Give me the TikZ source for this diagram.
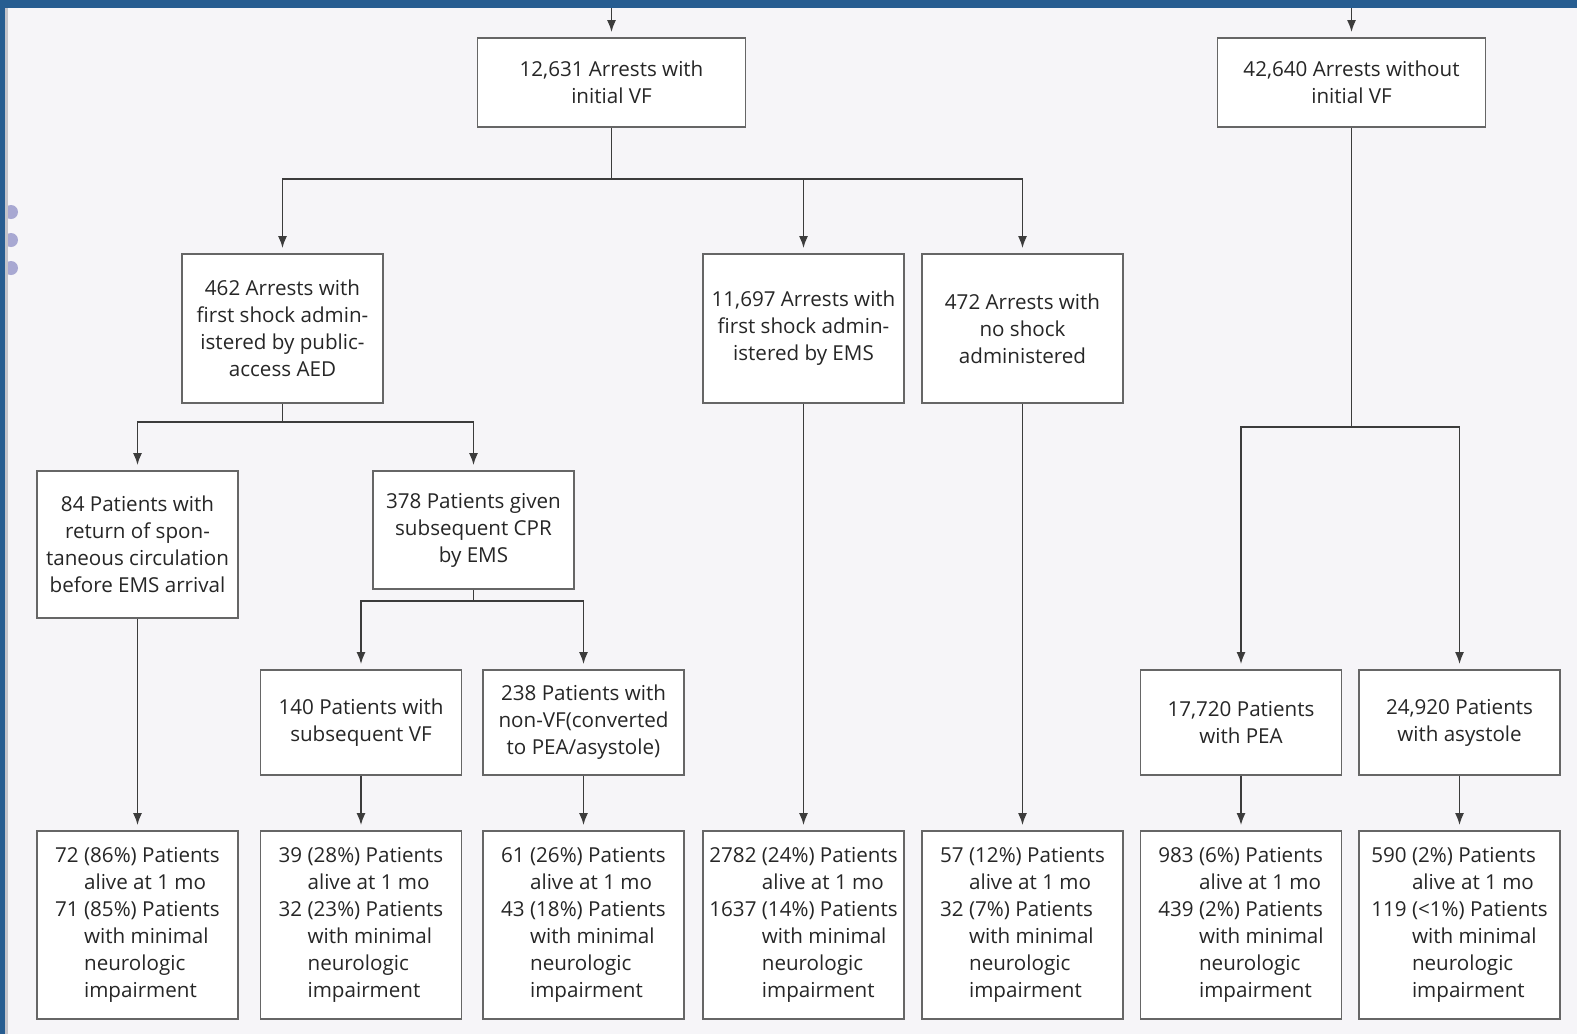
\documentclass[tikz,border=0pt]{standalone}
\usepackage{fontspec}
\setmainfont{Open Sans}
\usetikzlibrary{arrows.meta}

\definecolor{nejmblue}{HTML}{275D91}
\definecolor{pagegray}{HTML}{F6F5F8}
\definecolor{edgegray}{HTML}{C4C4CA}
\definecolor{boxline}{HTML}{666666}
\definecolor{wireline}{HTML}{3C3C3C}
\definecolor{dotlilac}{HTML}{A8A8D2}
\definecolor{inkgray}{HTML}{262626}

\tikzset{
  flowbox/.style={draw=boxline, fill=white, line width=0.9pt, align=center,
    inner sep=0pt, minimum width=100.5pt, text=inkgray,
    font=\fontsize{10.3}{13.5}\selectfont},
  wire/.style={draw=wireline, line width=0.85pt},
  flowarrow/.style={wire, -{Latex[length=6pt,width=4.5pt]}, shorten >=2.5pt}
}

% outcome text: count, percent, count, percent
\newcommand{\outcometab}[4]{%
  \begin{tabular}{@{}l@{\ }l@{}}
    #1 & #2 Patients\\
       & alive at 1 mo\\
    #3 & #4 Patients\\
       & with minimal\\
       & neurologic\\
       & impairment
  \end{tabular}}

\begin{document}
\begin{tikzpicture}[x=0.5pt,y=-0.5pt]
    % page and frame
    \useasboundingbox (0,0) rectangle (1577,1034);
    \fill[pagegray] (0,0) rectangle (1577,1034);
    \foreach \y in {212,240,268}
      \fill[dotlilac] (11,\y) circle[radius=3.5pt];
    \fill[edgegray] (5,8) rectangle (8,1034);
    \fill[nejmblue] (0,0) rectangle (5,1034);
    \fill[nejmblue] (0,0) rectangle (1577,8);

    % first row
    \node[flowbox, minimum width=134pt, minimum height=44.5pt] (vf) at (611.5,82.5)
      {12,631 Arrests with\\initial VF};
    \node[flowbox, minimum width=134pt, minimum height=44.5pt] (novf) at (1351.5,82.5)
      {42,640 Arrests without\\initial VF};
    \coordinate (vfin) at (611.5,8);
    \coordinate (novfin) at (1351.5,8);
    \draw[flowarrow] (vfin) -- (vf);
    \draw[flowarrow] (novfin) -- (novf);

    % shocks
    \node[flowbox, minimum height=74.5pt] (aed) at (282.5,328.5)
      {462 Arrests with\\first shock admin-\\istered by public-\\access AED};
    \node[flowbox, minimum height=74.5pt] (ems) at (803.5,328.5)
      {11,697 Arrests with\\first shock admin-\\istered by EMS};
    \node[flowbox, minimum height=74.5pt] (noshock) at (1022.5,328.5)
      {472 Arrests with\\no shock\\administered};
    \coordinate (vfsplit) at (611.5,179);
    \draw[wire] (vf) -- (vfsplit);
    \draw[flowarrow] (vfsplit) -| (aed);
    \draw[flowarrow] (vfsplit) -| (noshock);
    \draw[flowarrow] (vfsplit -| ems) -- (ems);

    % public-access AED branch
    \node[flowbox, minimum height=73.5pt] (rosc) at (137.5,544.5)
      {84 Patients with\\return of spon-\\taneous circulation\\before EMS arrival};
    \node[flowbox, minimum height=59pt] (cpr) at (473.5,530)
      {378 Patients given\\subsequent CPR\\by EMS};
    \coordinate (aedsplit) at (282.5,422);
    \draw[wire] (aed) -- (aedsplit);
    \draw[flowarrow] (aedsplit) -| (rosc);
    \draw[flowarrow] (aedsplit) -| (cpr);

    \node[flowbox, minimum height=52.5pt] (subvf) at (361,722.5)
      {140 Patients with\\subsequent VF};
    \node[flowbox, minimum height=52.5pt] (nonvf) at (583.5,722.5)
      {238 Patients with\\non-VF(converted\\to PEA/asystole)};
    \coordinate (cprsplit) at (473.5,601);
    \draw[wire] (cpr) -- (cprsplit);
    \draw[flowarrow] (cprsplit) -| (subvf);
    \draw[flowarrow] (cprsplit) -| (nonvf);

    % without initial VF
    \node[flowbox, minimum height=52.5pt] (pea) at (1241,722.5)
      {17,720 Patients\\with PEA};
    \node[flowbox, minimum height=52.5pt] (asys) at (1459.5,722.5)
      {24,920 Patients\\with asystole};
    \coordinate (novfsplit) at (1351.5,427);
    \draw[wire] (novf) -- (novfsplit);
    \draw[flowarrow] (novfsplit) -| (pea);
    \draw[flowarrow] (novfsplit) -| (asys);

    % outcomes
    \node[flowbox, minimum height=94pt] (out1) at (137.5,925) {\outcometab{72}{(86\%)}{71}{(85\%)}};
    \node[flowbox, minimum height=94pt] (out2) at (361,925) {\outcometab{39}{(28\%)}{32}{(23\%)}};
    \node[flowbox, minimum height=94pt] (out3) at (583.5,925) {\outcometab{61}{(26\%)}{43}{(18\%)}};
    \node[flowbox, minimum height=94pt] (out4) at (803.5,925) {\outcometab{2782}{(24\%)}{1637}{(14\%)}};
    \node[flowbox, minimum height=94pt] (out5) at (1022.5,925) {\outcometab{57}{(12\%)}{32}{(7\%)}};
    \node[flowbox, minimum height=94pt] (out6) at (1241,925) {\outcometab{983}{(6\%)}{439}{(2\%)}};
    \node[flowbox, minimum height=94pt] (out7) at (1459.5,925) {\outcometab{590}{(2\%)}{119}{(<1\%)}};
    \foreach \src/\dst in {rosc/out1,subvf/out2,nonvf/out3,ems/out4,noshock/out5,pea/out6,asys/out7}
      \draw[flowarrow] (\src) -- (\dst);
\end{tikzpicture}
\end{document}
